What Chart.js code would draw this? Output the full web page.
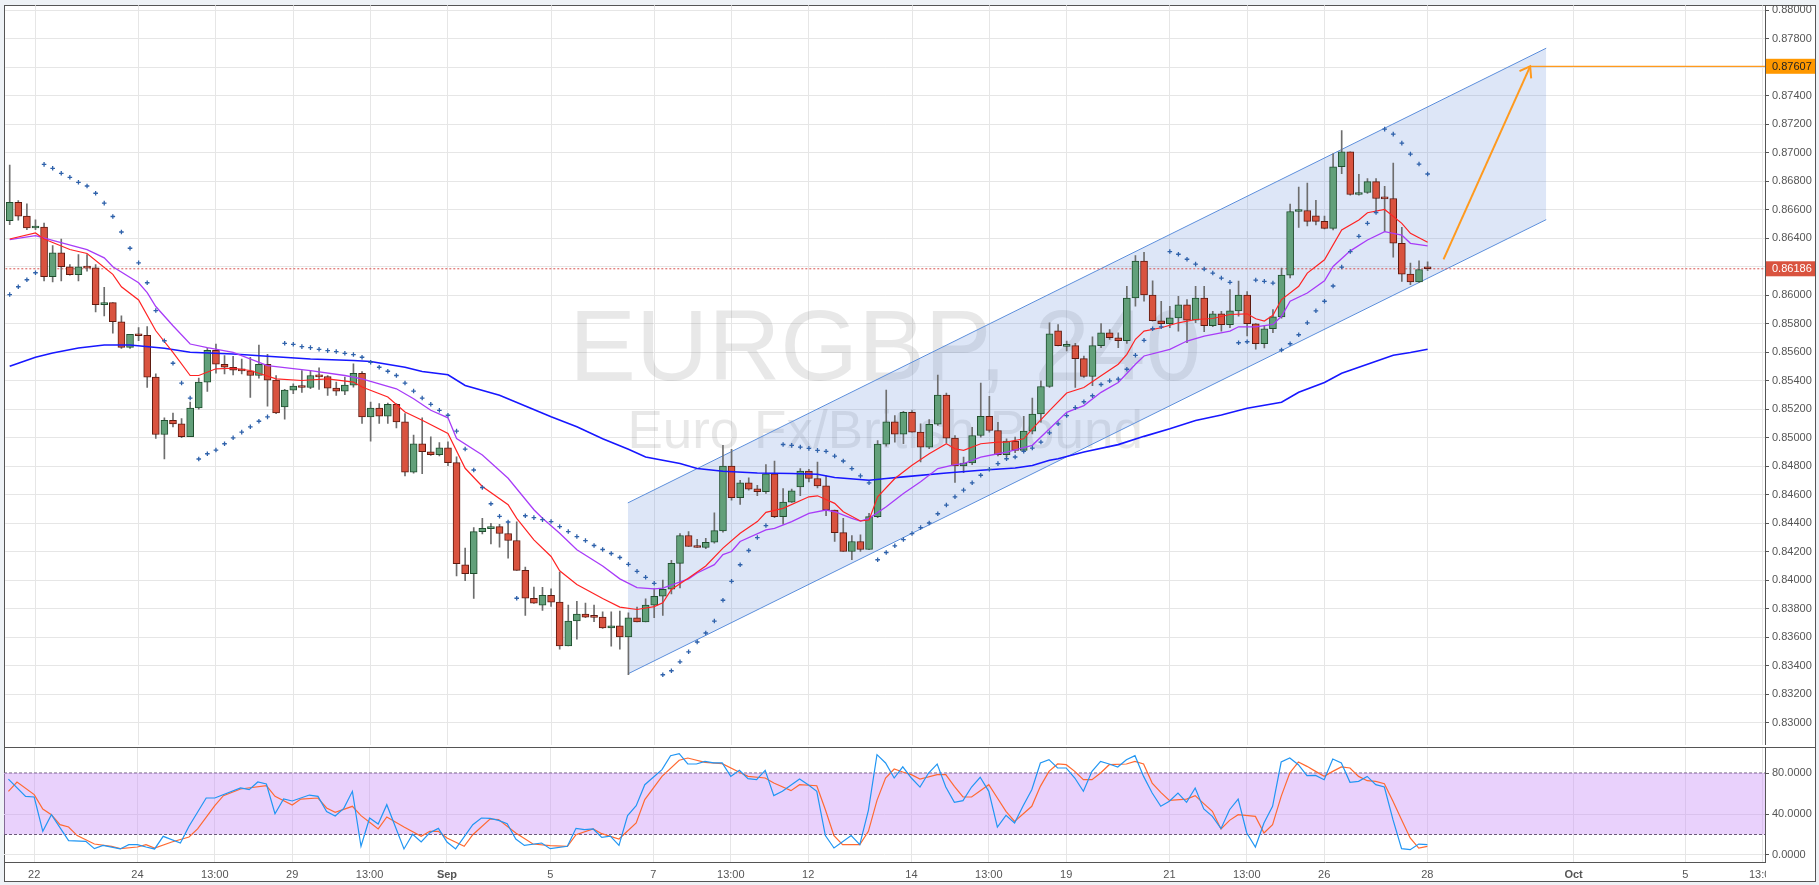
<!DOCTYPE html>
<html>
<head>
<meta charset="utf-8">
<script src="https://cdn.jsdelivr.net/npm/chart.js@4.4.0/dist/chart.umd.min.js"></script>
<style>
  body { margin: 0; width: 1819px; height: 885px; overflow: hidden; position: relative; background: #eef2f6; }
  #panel { position: absolute; left: 4px; top: 5px; width: 1812px; height: 877px; background: #fff; border: 1px solid #555; box-sizing: border-box; }
  canvas { position: absolute; left: 0; }
  #main { top: 0; }
  #stoch { top: 747px; }
  #sep { position: absolute; left: 4px; top: 747px; width: 1812px; height: 1px; background: #555; }
</style>
</head>
<body>
<div id="panel"></div>
<canvas id="main" width="1819" height="750"></canvas>
<canvas id="stoch" width="1819" height="138"></canvas>
<div id="sep"></div>
<script>
// EURGBP 4h candles, oldest first
const opens = [.86523,.86653,.86556,.86472,.86479,.86130,.86298,.86200,.86144,.86200,
.86193,.85935,.85949,.85814,.85635,.85726,.85719,.85426,.85023,.85123,
.85098,.85007,.85209,.85391,.85614,.85516,.85495,.85479,.85470,.85437,
.85516,.85405,.85216,.85335,.85363,.85353,.85437,.85430,.85349,.85328,
.85370,.85453,.85147,.85209,.85151,.85235,.85112,.84758,.84958,.84902,
.84881,.84930,.84826,.84109,.84047,.84342,.84363,.84377,.84328,.84279,
.84070,.83874,.83826,.83895,.83847,.83540,.83714,.83763,.83744,.83742,
.83665,.83681,.83602,.83737,.83707,.83826,.83888,.83937,.84119,.84314,
.84240,.84230,.84267,.84347,.84802,.84579,.84684,.84642,.84621,.84747,
.84447,.84549,.84656,.84767,.84714,.84663,.84493,.84335,.84202,.84272,
.84216,.84447,.84956,.85112,.85026,.85179,.85040,.84935,.85095,.85300,
.84998,.84802,.84823,.85016,.85151,.85051,.84881,.84977,.84912,.85047,
.85167,.85360,.85751,.85642,.85647,.85556,.85430,.85647,.85737,.85702,
.85681,.85981,.86240,.86002,.85821,.85800,.85842,.85933,.85826,.85981,
.85786,.85870,.85793,.85891,.86002,.85800,.85660,.85765,.85849,.86142,
.86588,.86595,.86558,.86519,.86470,.86902,.87007,.86707,.86721,.86798,
.86681,.86679,.86365,.86149,.86093,.86190];
const highs = [.86914,.86665,.86642,.86530,.86507,.86349,.86395,.86216,.86286,.86286,
.86216,.86056,.85949,.85856,.85726,.85774,.85781,.85449,.85140,.85174,
.85135,.85251,.85419,.85628,.85658,.85577,.85572,.85553,.85565,.85651,
.85586,.85437,.85340,.85379,.85472,.85472,.85491,.85437,.85391,.85426,
.85519,.85465,.85251,.85240,.85244,.85240,.85170,.85019,.85140,.85007,
.84967,.84972,.84867,.84226,.84370,.84435,.84400,.84393,.84400,.84410,
.84093,.83953,.83951,.83940,.84058,.83826,.83853,.83840,.83826,.83779,
.83779,.83784,.83772,.83812,.83870,.83942,.84002,.84140,.84328,.84342,
.84288,.84295,.84474,.84947,.84919,.84702,.84719,.84667,.84812,.84837,
.84644,.84640,.84784,.84779,.84830,.84733,.84493,.84435,.84314,.84319,
.84470,.84981,.85335,.85156,.85186,.85191,.85098,.85128,.85440,.85314,
.85016,.84865,.85074,.85384,.85291,.85109,.84993,.85005,.85151,.85279,
.85400,.85807,.85795,.85679,.85663,.85574,.85709,.85802,.85760,.85737,
.86063,.86279,.86302,.86102,.85958,.85923,.85993,.85970,.86063,.86063,
.85888,.85888,.86040,.86100,.86026,.85802,.85784,.85900,.86191,.86640,
.86760,.86788,.86667,.86556,.86993,.87156,.87007,.86849,.86819,.86819,
.86765,.86928,.86477,.86226,.86242,.86235];
const lows = [.86495,.86528,.86460,.86460,.86100,.86093,.86100,.86142,.86100,.86170,
.85884,.85856,.85735,.85628,.85628,.85681,.85353,.84995,.84851,.85077,
.85000,.85007,.85200,.85326,.85453,.85449,.85442,.85449,.85284,.85419,
.85221,.85170,.85130,.85309,.85319,.85344,.85340,.85298,.85298,.85302,
.85356,.85100,.84977,.85100,.85100,.85070,.84733,.84751,.84749,.84877,
.84872,.84805,.84030,.83998,.83872,.84326,.84256,.84233,.84156,.84070,
.83753,.83837,.83788,.83816,.83516,.83540,.83586,.83737,.83709,.83663,
.83537,.83516,.83337,.83707,.83707,.83737,.83753,.83905,.83947,.84237,
.84230,.84221,.84260,.84337,.84563,.84533,.84633,.84593,.84609,.84440,
.84393,.84547,.84593,.84691,.84649,.84453,.84272,.84202,.84144,.84202,
.84214,.84440,.84942,.84970,.84958,.85040,.84830,.84923,.85086,.84965,
.84686,.84756,.84812,.85005,.85040,.84872,.84865,.84895,.84905,.85028,
.85110,.85353,.85644,.85609,.85353,.85423,.85365,.85633,.85691,.85633,
.85663,.85923,.85958,.85819,.85795,.85772,.85749,.85667,.85807,.85744,
.85779,.85749,.85772,.85853,.85714,.85621,.85630,.85737,.85840,.86121,
.86477,.86486,.86493,.86465,.86458,.86853,.86702,.86702,.86714,.86593,
.86447,.86267,.86098,.86074,.86091,.86172];
const closes = [.86653,.86556,.86472,.86479,.86130,.86298,.86200,.86144,.86200,.86191,
.85935,.85949,.85814,.85635,.85726,.85716,.85426,.85023,.85123,.85098,
.85007,.85209,.85391,.85614,.85516,.85495,.85474,.85470,.85437,.85516,
.85405,.85174,.85335,.85363,.85353,.85437,.85428,.85349,.85328,.85370,
.85453,.85147,.85209,.85151,.85235,.85112,.84758,.84958,.84902,.84881,
.84930,.84826,.84116,.84047,.84342,.84365,.84377,.84328,.84279,.84070,
.83874,.83840,.83895,.83847,.83540,.83714,.83763,.83742,.83740,.83665,
.83681,.83602,.83737,.83707,.83826,.83888,.83937,.84119,.84314,.84237,
.84230,.84267,.84349,.84802,.84579,.84684,.84640,.84621,.84747,.84447,
.84549,.84628,.84767,.84714,.84663,.84493,.84335,.84202,.84272,.84216,
.84447,.84956,.85112,.85026,.85179,.85040,.84935,.85095,.85300,.84998,
.84802,.84823,.85016,.85151,.85051,.84881,.84977,.84912,.85047,.85167,
.85360,.85730,.85647,.85647,.85556,.85430,.85647,.85737,.85702,.85681,
.85981,.86240,.86002,.85821,.85800,.85842,.85933,.85826,.85981,.85786,
.85870,.85793,.85891,.86002,.85800,.85660,.85765,.85849,.86142,.86588,
.86595,.86519,.86519,.86470,.86902,.87007,.86707,.86721,.86798,.86679,
.86677,.86365,.86149,.86093,.86181,.86186];

// indicator readings [candle index, value]
const emaFast = [[1,.86395],[4,.86437],[5,.86395],[8,.86321],[10,.86293],[13,.86147],[14,.86060],[16,.85967],[18,.85751],[20,.85600],[22,.85437],[23,.85437],[25,.85484],[27,.85488],[29,.85472],[32,.85414],[35,.85402],[38,.85414],[41,.85391],[42,.85356],[45,.85286],[47,.85181],[49,.85123],[52,.85030],[54,.84786],[56,.84658],[59,.84530],[60,.84435],[62,.84284],[64,.84167],[65,.84067],[67,.83970],[70,.83872],[72,.83812],[74,.83795],[76,.83815],[77,.83842],[78,.83935],[80,.84016],[82,.84100],[84,.84226],[86,.84330],[88,.84412],[89,.84477],[91,.84505],[94,.84586],[95,.84593],[97,.84540],[98,.84481],[100,.84416],[101,.84423],[102,.84586],[104,.84714],[106,.84807],[108,.84888],[110,.84958],[111,.84923],[112,.84912],[114,.84958],[116,.84970],[117,.84970],[119,.84993],[120,.85063],[122,.85190],[124,.85314],[126,.85353],[128,.85435],[130,.85516],[131,.85586],[132,.85691],[133,.85749],[135,.85772],[137,.85807],[139,.85830],[141,.85837],[143,.85865],[145,.85870],[146,.85835],[147,.85819],[148,.85860],[149,.85970],[151,.86063],[152,.86156],[154,.86249],[156,.86458],[158,.86528],[159,.86579],[161,.86602],[163,.86505],[164,.86435],[166,.86372]];
const emaSlow = [[1,.86391],[4,.86419],[6,.86386],[10,.86321],[12,.86263],[13,.86200],[16,.86088],[17,.86019],[18,.85921],[20,.85786],[22,.85658],[24,.85633],[27,.85600],[31,.85507],[36,.85472],[40,.85437],[42,.85414],[46,.85344],[48,.85274],[50,.85193],[52,.85140],[53,.84995],[56,.84879],[59,.84716],[62,.84495],[63,.84435],[65,.84330],[67,.84214],[70,.84100],[72,.84010],[74,.83949],[76,.83940],[77,.83945],[80,.84010],[81,.84051],[83,.84110],[84,.84180],[85,.84202],[86,.84272],[89,.84353],[90,.84365],[92,.84412],[94,.84470],[96,.84493],[97,.84481],[99,.84435],[100,.84416],[101,.84435],[103,.84516],[105,.84609],[107,.84691],[109,.84784],[111,.84812],[112,.84819],[114,.84865],[116,.84888],[117,.84900],[120,.84947],[122,.85063],[124,.85179],[126,.85226],[128,.85319],[130,.85388],[132,.85516],[133,.85574],[136,.85621],[138,.85679],[140,.85714],[143,.85749],[144,.85779],[146,.85779],[148,.85795],[149,.85853],[150,.85958],[152,.86016],[154,.86102],[155,.86202],[157,.86312],[159,.86388],[161,.86447],[163,.86423],[164,.86365],[166,.86347]];
const maLong = [[1,.85502],[4,.85565],[6,.85595],[9,.85630],[12,.85651],[15,.85651],[19,.85628],[22,.85600],[27,.85588],[31,.85572],[36,.85553],[41,.85542],[43,.85535],[47,.85495],[49,.85465],[52,.85442],[54,.85367],[58,.85298],[61,.85223],[64,.85147],[67,.85077],[70,.84993],[73,.84919],[75,.84865],[79,.84819],[81,.84784],[84,.84765],[88,.84753],[92,.84749],[95,.84744],[97,.84721],[101,.84702],[103,.84714],[105,.84726],[110,.84753],[114,.84772],[118,.84788],[120,.84805],[122,.84842],[123,.84853],[126,.84900],[130,.84952],[133,.85010],[136,.85063],[139,.85121],[142,.85160],[145,.85207],[149,.85249],[151,.85319],[154,.85388],[156,.85453],[159,.85516],[162,.85579],[164,.85598],[166,.85621]];
const sar = [[1,.86005],[2,.86060],[3,.86109],[4,.86158],[5,.86919],[6,.86891],[7,.86856],[8,.86828],[9,.86793],[10,.86767],[11,.86716],[12,.86647],[13,.86553],[14,.86444],[15,.86330],[16,.86228],[17,.86088],[18,.85893],[19,.85681],[20,.85523],[21,.85384],[22,.85279],[23,.84851],[24,.84888],[25,.84914],[26,.84958],[27,.85000],[28,.85040],[29,.85077],[30,.85116],[31,.85147],[33,.85663],[34,.85656],[35,.85640],[36,.85633],[37,.85621],[38,.85612],[39,.85605],[40,.85593],[41,.85584],[42,.85565],[43,.85530],[44,.85495],[45,.85467],[46,.85437],[47,.85384],[48,.85328],[49,.85279],[50,.85235],[51,.85193],[52,.85158],[53,.85047],[54,.84921],[55,.84774],[56,.84651],[57,.84537],[58,.84449],[59,.84409],[60,.83874],[61,.84453],[62,.84440],[63,.84426],[64,.84412],[65,.84377],[66,.84342],[67,.84307],[68,.84279],[69,.84244],[70,.84216],[71,.84188],[72,.84160],[73,.84112],[74,.84063],[75,.84021],[76,.83979],[77,.83337],[78,.83365],[79,.83428],[80,.83498],[81,.83567],[82,.83630],[83,.83714],[84,.83860],[85,.83993],[86,.84109],[87,.84209],[88,.84300],[89,.84384],[91,.84953],[92,.84947],[93,.84935],[94,.84926],[95,.84912],[96,.84905],[97,.84872],[98,.84837],[99,.84784],[100,.84733],[101,.84684],[102,.84144],[103,.84195],[104,.84242],[105,.84286],[106,.84328],[107,.84370],[108,.84402],[109,.84467],[110,.84528],[111,.84586],[112,.84633],[113,.84684],[114,.84737],[115,.84779],[116,.84819],[117,.84853],[118,.84865],[119,.84905],[120,.84928],[121,.84970],[122,.85035],[123,.85098],[124,.85156],[125,.85212],[126,.85253],[127,.85295],[128,.85374],[129,.85400],[130,.85412],[131,.85481],[132,.85579],[133,.85684],[134,.85765],[135,.85779],[136,.86307],[137,.86288],[138,.86253],[139,.86219],[140,.86184],[141,.86156],[142,.86121],[143,.86091],[144,.85667],[145,.85674],[146,.86107],[147,.86098],[148,.86086],[149,.85616],[150,.85660],[151,.85723],[152,.85807],[153,.85891],[154,.85958],[155,.86065],[156,.86198],[157,.86307],[158,.86414],[159,.86505],[160,.86581],[161,.87166],[162,.87131],[163,.87068],[164,.86991],[165,.86921],[166,.86851]];
const stochK = [[1,74.1],[3,57.2],[4,56.6],[5,23.1],[6,39.3],[8,14.0],[10,13.3],[11,6.2],[12,9.4],[14,5.9],[15,10.1],[16,10.1],[17,7.8],[18,5.9],[19,18.2],[21,11.7],[22,28.0],[24,55.6],[25,55.6],[28,65.4],[29,63.7],[30,71.2],[31,69.3],[32,40.3],[33,54.6],[34,52.7],[36,58.5],[37,57.2],[38,42.3],[39,38.0],[40,45.5],[41,62.1],[42,8.5],[43,36.1],[44,30.2],[45,49.1],[47,5.9],[48,20.2],[49,12.7],[50,21.8],[51,26.0],[52,12.7],[53,5.9],[55,29.6],[56,36.1],[57,35.8],[58,33.8],[59,30.6],[60,15.6],[61,9.4],[63,11.7],[64,6.2],[66,8.5],[67,26.0],[68,24.7],[69,25.4],[70,17.2],[71,18.5],[72,9.4],[73,38.4],[74,48.1],[75,68.6],[77,83.3],[78,96.9],[79,98.9],[80,88.8],[81,88.8],[82,91.4],[83,89.8],[84,89.8],[85,76.7],[86,82.6],[87,74.5],[88,73.5],[89,82.6],[90,57.9],[91,62.1],[93,74.1],[94,68.6],[95,62.1],[96,18.9],[97,6.8],[99,18.9],[100,10.1],[101,43.6],[102,97.9],[103,89.8],[104,75.1],[105,86.0],[106,75.1],[107,66.3],[108,80.0],[109,88.8],[110,66.3],[111,51.4],[112,53.0],[113,66.3],[114,75.8],[115,62.1],[116,27.3],[117,38.7],[118,31.2],[119,48.1],[120,63.7],[121,89.8],[122,93.0],[123,84.9],[124,84.9],[125,75.1],[126,62.1],[127,81.6],[128,91.4],[129,88.8],[130,85.9],[131,93.0],[132,96.9],[133,76.7],[134,60.5],[135,47.5],[136,52.4],[137,60.5],[138,51.4],[139,65.4],[140,44.9],[141,37.7],[142,25.7],[143,44.2],[144,54.6],[145,21.5],[146,7.8],[147,31.2],[148,47.5],[149,90.7],[150,94.6],[151,88.1],[152,77.4],[153,77.7],[154,73.5],[155,93.7],[156,89.8],[157,70.9],[158,71.9],[159,76.7],[160,68.6],[161,66.3],[162,34.5],[163,6.2],[164,5.2],[165,10.7],[166,10.1]];
const stochD = [[1,62.1],[2,71.2],[4,58.9],[5,44.9],[6,39.3],[7,29.6],[8,27.3],[9,18.9],[11,10.7],[13,8.5],[14,6.2],[16,7.8],[17,10.1],[18,6.8],[20,12.7],[22,17.6],[23,25.4],[25,48.1],[26,57.9],[28,64.4],[31,67.6],[32,57.2],[34,48.8],[35,54.6],[37,55.6],[38,45.9],[39,41.6],[41,47.5],[42,38.4],[43,31.9],[44,25.4],[45,37.1],[47,27.3],[49,18.2],[50,23.1],[51,23.1],[52,16.6],[54,8.5],[55,19.8],[57,35.1],[58,34.5],[60,21.5],[62,10.7],[64,9.1],[66,8.5],[67,19.8],[69,25.4],[70,20.8],[72,15.6],[74,31.2],[75,54.0],[77,76.7],[79,92.4],[80,94.6],[82,90.4],[84,89.1],[86,80.7],[87,76.7],[89,75.1],[90,70.2],[92,62.8],[93,68.6],[95,67.6],[96,44.2],[97,18.9],[98,10.1],[100,10.1],[101,23.1],[102,53.3],[103,75.1],[104,83.9],[105,81.0],[106,78.4],[107,74.1],[109,78.4],[110,78.4],[111,67.0],[112,56.6],[113,56.6],[115,68.6],[116,55.6],[117,42.6],[118,32.8],[120,47.5],[121,67.0],[122,81.6],[123,88.8],[124,88.1],[125,81.6],[126,73.5],[127,73.5],[128,80.0],[129,88.1],[131,88.8],[132,91.4],[133,88.8],[134,70.2],[135,61.1],[136,53.3],[138,54.6],[139,57.9],[140,50.1],[141,42.6],[142,25.4],[143,33.8],[144,39.3],[146,37.7],[147,21.5],[148,29.6],[149,57.2],[150,80.0],[151,90.7],[152,86.5],[153,81.6],[154,76.7],[155,81.6],[156,85.9],[157,84.9],[158,76.7],[159,72.5],[160,71.9],[161,69.6],[162,52.4],[163,34.5],[164,16.6],[165,6.8],[166,8.5]];

// drawn objects: channel, target arrow
const channelTop = [[72.93,.84543],[179.8,.87734]];
const channelBottom = [[72.93,.83343],[179.8,.86531]];
const arrowShaft = [[167.85,.86252],[177.93,.87607]];
const arrowHead = [[176.69,.87573],[177.93,.87607],[178.05,.87522]];
const lastPrice = 0.86186;
const targetPrice = 0.87607;
const stochLevels = [80, 20];

// axes
const xTickIdx = [4,16,25,34,43,52,64,76,85,94,106,115,124,136,145,154,166,183,196,205];
const xTickLabels = ['22','24','13:00','29','13:00','Sep','5','7','13:00','12','14','13:00','19','21','13:00','26','28','Oct','5','13:00'];
const priceTicks = [0.830,0.832,0.834,0.836,0.838,0.840,0.842,0.844,0.846,0.848,0.850,0.852,0.854,0.856,0.858,0.860,0.862,0.864,0.866,0.868,0.870,0.872,0.874,0.876,0.878,0.880];
const stochTicks = [0, 40, 80];

const xMin = 0.488, xMax = 205.26;
const yMin = 0.828462, yMax = 0.880350;
const sMin = -6.83, sMax = 105.37;
const FONT = "'Liberation Sans', Arial, sans-serif";

const pts = arr => arr.map(([x, y]) => ({x, y}));
const candleX = opens.map((_, i) => i + 1);
const isUp = closes.map((c, i) => c >= opens[i]);

function lineSet(data, color, width, order, extra) {
    return Object.assign({
        type: 'line', data: data, borderColor: color, borderWidth: width,
        pointRadius: 0, fill: false, tension: 0, order: order
    }, extra || {})
}

// keep the axis from reserving room for half labels, the panels are fixed
function fitRight(s) {
    s.width = 54;
    s.paddingTop = 0;
    s.paddingBottom = 0;
}

const watermark = {
    id: 'watermark',
    beforeDatasetsDraw(chart) {
        const ctx = chart.ctx, a = chart.chartArea;
        const cx = (a.left + a.right) / 2;
        ctx.save();
        ctx.fillStyle = 'rgba(110,110,110,0.16)';
        ctx.textAlign = 'center';
        ctx.font = '100px ' + FONT;
        ctx.fillText('EURGBP, 240', cx, 380);
        ctx.font = '53px ' + FONT;
        ctx.fillText('Euro Fx/British Pound', cx, 448);
        ctx.restore();
    }
};

const priceTags = {
    id: 'priceTags',
    afterDraw(chart) {
        const ctx = chart.ctx, y = chart.scales.y, right = chart.chartArea.right;
        const tags = [[targetPrice, '#ff9800', '#222'], [lastPrice, '#d9533f', '#fff']];
        ctx.save();
        ctx.font = '11px ' + FONT;
        ctx.textBaseline = 'middle';
        for (const [v, bg, fg] of tags) {
            const py = y.getPixelForValue(v);
            ctx.fillStyle = bg;
            ctx.fillRect(right + 1, py - 7.5, 49, 15);
            ctx.fillStyle = fg;
            ctx.fillText(v.toFixed(5), right + 7, py + 0.5);
        }
        ctx.restore();
    }
};

// the last time label runs under the price scale, cut it off there
const clipTimeLabels = {
    id: 'clipTimeLabels',
    afterDraw(chart) {
        const a = chart.chartArea;
        chart.ctx.save();
        chart.ctx.fillStyle = '#fff';
        chart.ctx.fillRect(a.right + 1, a.bottom + 1, 48, chart.height - a.bottom - 5);
        chart.ctx.restore();
    }
};

const common = {
    responsive: false, animation: false, devicePixelRatio: 1, events: [],
    plugins: { legend: { display: false }, tooltip: { enabled: false } }
};

new Chart(document.getElementById('main'), {
    type: 'bar',
    data: {
        datasets: [
            lineSet(pts(channelTop), '#5b8edb', 1, 70),
            lineSet(pts(channelBottom), '#5b8edb', 1, 69, { fill: '-1', backgroundColor: 'rgba(100,140,220,0.22)' }),
            lineSet([{x: xMin, y: lastPrice}, {x: xMax, y: lastPrice}], '#d9534f', 1, 60, { borderDash: [2, 2] }),
            {
                type: 'bar', data: candleX.map((x, i) => ({x: x, y: [lows[i], highs[i]]})),
                backgroundColor: '#6e6e6e', barThickness: 1, grouped: false, order: 50
            },
            {
                type: 'bar', data: candleX.map((x, i) => ({x: x, y: [opens[i], closes[i]]})),
                backgroundColor: isUp.map(u => u ? '#62a07a' : '#d9533f'),
                borderColor: isUp.map(u => u ? '#1f4f2e' : '#5e1a10'),
                borderWidth: 1, borderSkipped: false, barThickness: 7, minBarLength: 2,
                grouped: false, order: 45
            },
            lineSet(pts(maLong), '#1717ff', 1.6, 30),
            lineSet(pts(emaSlow), '#a83cf8', 1.3, 29),
            lineSet(pts(emaFast), '#ff2424', 1.2, 28),
            {
                type: 'line', data: pts(sar), showLine: false, pointStyle: 'cross',
                pointRadius: 2.3, pointBorderColor: '#2f62ab', pointBorderWidth: 1.3, order: 20
            },
            lineSet([{x: arrowShaft[1][0], y: targetPrice}, {x: xMax, y: targetPrice}], '#ff9a1e', 1.3, 11),
            lineSet(pts(arrowShaft), '#ff9a1e', 2, 10),
            lineSet(pts(arrowHead), '#ff9a1e', 2, 10)
        ]
    },
    options: Object.assign({}, common, {
        layout: { padding: { left: 4, top: 5, right: 0, bottom: 3 } },
        scales: {
            x: {
                type: 'linear', min: xMin, max: xMax, bounds: 'data', offset: false,
                grid: { color: '#e6e6e6', offset: false, drawTicks: false },
                border: { display: false },
                ticks: { display: false },
                afterBuildTicks: s => { s.ticks = xTickIdx.map(v => ({value: v})); },
                afterFit: s => { s.height = 0; s.paddingLeft = 0; s.paddingRight = 0; }
            },
            y: {
                position: 'right', min: yMin, max: yMax, bounds: 'data',
                grid: { color: '#e6e6e6', tickColor: '#555', tickLength: 4 },
                border: { color: '#555' },
                ticks: {
                    color: '#555', padding: 3, autoSkip: false,
                    font: { family: FONT, size: 11 },
                    callback: v => (Math.abs(v - 0.876) < 1e-6 || Math.abs(v - 0.862) < 1e-6) ? '' : v.toFixed(5)
                },
                afterBuildTicks: s => { s.ticks = priceTicks.map(v => ({value: v})); },
                afterFit: fitRight
            }
        }
    }),
    plugins: [watermark, priceTags]
});

new Chart(document.getElementById('stoch'), {
    type: 'line',
    data: {
        datasets: [
            lineSet([{x: xMin, y: stochLevels[0]}, {x: xMax, y: stochLevels[0]}], '#6b5a7b', 1, 10, { borderDash: [3, 2] }),
            lineSet([{x: xMin, y: stochLevels[1]}, {x: xMax, y: stochLevels[1]}], '#6b5a7b', 1, 9, { borderDash: [3, 2], fill: '-1', backgroundColor: 'rgba(200,140,248,0.4)' }),
            lineSet(pts(stochD), '#ff6a32', 1.2, 5),
            lineSet(pts(stochK), '#2196f3', 1.2, 4)
        ]
    },
    options: Object.assign({}, common, {
        layout: { padding: { left: 4, top: 0, right: 0, bottom: 0 } },
        scales: {
            x: {
                type: 'linear', min: xMin, max: xMax, bounds: 'data', offset: false,
                grid: { color: '#e6e6e6', drawTicks: false },
                border: { color: '#555' },
                ticks: {
                    color: '#555', padding: 6, autoSkip: false, maxRotation: 0,
                    font: ctx => ({ family: FONT, size: 11, weight: (ctx.tick && (ctx.tick.label === 'Sep' || ctx.tick.label === 'Oct')) ? 'bold' : 'normal' }),
                    callback: (v, i) => xTickLabels[i]
                },
                afterBuildTicks: s => { s.ticks = xTickIdx.map(v => ({value: v})); },
                afterFit: s => { s.height = 23; s.paddingLeft = 0; s.paddingRight = 0; }
            },
            y: {
                position: 'right', min: sMin, max: sMax, bounds: 'data',
                grid: { color: '#e6e6e6', tickColor: '#555', tickLength: 4 },
                border: { color: '#555' },
                ticks: {
                    color: '#555', padding: 3, autoSkip: false,
                    font: { family: FONT, size: 11 },
                    callback: v => v.toFixed(4)
                },
                afterBuildTicks: s => { s.ticks = stochTicks.map(v => ({value: v})); },
                afterFit: fitRight
            }
        }
    }),
    plugins: [clipTimeLabels]
});
</script>
</body>
</html>
